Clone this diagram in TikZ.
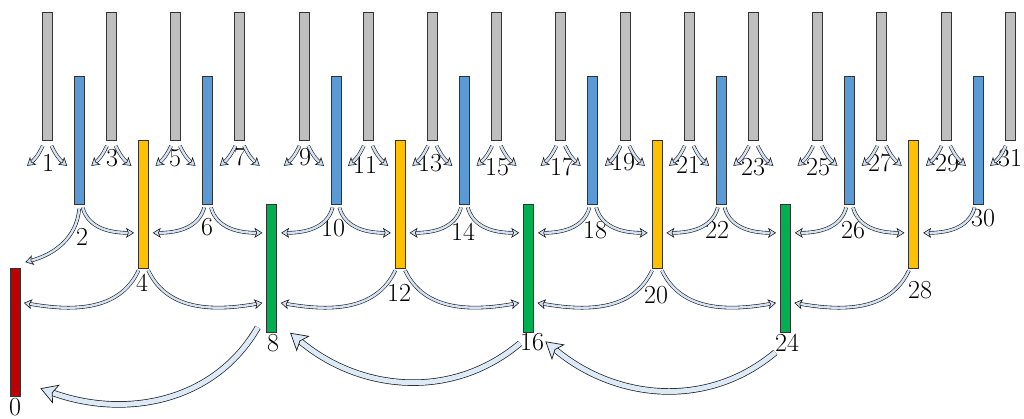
\documentclass[tikz,border=0pt]{standalone}
\usetikzlibrary{arrows.meta,calc}
\definecolor{cgray}{HTML}{BFBFBF}
\definecolor{cblue}{HTML}{5B9BD5}
\definecolor{cyel}{HTML}{FFC000}
\definecolor{cgreen}{HTML}{00B050}
\definecolor{cred}{HTML}{C00000}
\definecolor{afill}{HTML}{D2E3F5}
\definecolor{bfill}{HTML}{DCE9F7}
\begin{document}
\begin{tikzpicture}[x=1pt,y=1pt,
  bar/.style={draw=black!80, line width=0.7pt, minimum width=10pt, minimum height=128pt, inner sep=0pt},
  lab/.style={inner sep=0pt, font=\fontsize{26}{26}\selectfont},
  sarr/.style={draw=black!90, line width=0.6pt, double=afill, double distance=2.4pt,
    -{Stealth[length=8pt,width=10pt,inset=2pt,fill=afill,line width=0.6pt]}},
  barr/.style={draw=black!90, line width=0.7pt, double=bfill, double distance=5pt,
    -{Stealth[length=17pt,width=20pt,inset=4pt,fill=bfill,line width=0.7pt]}}]
\useasboundingbox (0,0) rectangle (1024,-419);
% bars
\foreach \i/\k/\c in {0/4/cred,1/0/cgray,2/1/cblue,3/0/cgray,4/2/cyel,5/0/cgray,6/1/cblue,7/0/cgray,
  8/3/cgreen,9/0/cgray,10/1/cblue,11/0/cgray,12/2/cyel,13/0/cgray,14/1/cblue,15/0/cgray,
  16/3/cgreen,17/0/cgray,18/1/cblue,19/0/cgray,20/2/cyel,21/0/cgray,22/1/cblue,23/0/cgray,
  24/3/cgreen,25/0/cgray,26/1/cblue,27/0/cgray,28/2/cyel,29/0/cgray,30/1/cblue,31/0/cgray}
  \node[bar, fill=\c] (b\i) at ({15+32.1*\i}, {-(76.5+64*\k)}) {};
% labels
\foreach \i/\x/\y in {0/15/407,1/48/163,2/82/237,3/112/158,4/142/283,5/175/158,6/207/227,7/240/157,
  8/273/343,9/305/157,10/333/228,11/365/165,12/399/293,13/430/163,14/463/232,15/497/167,
  16/532/342,17/562/167,18/595/230,19/623/162,20/656/295,21/688/165,22/717/230,23/753/167,
  24/787/343,25/818/167,26/853/230,27/880/163,28/920/290,29/947/163,30/983/218,31/1010/158}
  \node[lab] (t\i) at (\x,-\y) {\i};
% odd bars: short stubs
\foreach \i in {1,3,...,31} {
  \coordinate (ol\i) at ([shift={(-20,-25)}]b\i.south);
  \draw[sarr] ([shift={(1,-5)}]b\i.south west) to[out=-115,in=40] (ol\i);
}
\foreach \i in {1,3,...,29} {
  \coordinate (or\i) at ([shift={(20,-25)}]b\i.south);
  \draw[sarr] ([shift={(-1,-5)}]b\i.south east) to[out=-65,in=140] (or\i);
}
% blue level
\foreach \s/\t in {6/4,10/8,14/12,18/16,22/20,26/24,30/28}
  \draw[sarr] ([shift={(2,-2.5)}]b\s.south west) to[out=-105,in=0] ($(b\s.south -| b\t.east)+(4,-28)$);
\foreach \s/\t in {2/4,6/8,10/12,14/16,18/20,22/24,26/28}
  \draw[sarr] ([shift={(-2,-2.5)}]b\s.south east) to[out=-75,in=180] ($(b\s.south -| b\t.west)+(-4,-28)$);
\draw[sarr] ([shift={(0,-4)}]b2.south) to[out=-95,in=15] ($(b0.north east)+(5,6)$);
% yellow level
\foreach \s/\t in {4/0,12/8,20/16,28/24}
  \draw[sarr] ([shift={(0.5,-1.5)}]b\s.south west) to[out=-115,in=-10] ($(b\s.south -| b\t.east)+(3.5,-34)$);
\foreach \s/\t in {4/8,12/16,20/24}
  \draw[sarr] ([shift={(-0.5,-1.5)}]b\s.south east) to[out=-65,in=190] ($(b\s.south -| b\t.west)+(-4,-34)$);
% green level: big arrows
\coordinate (s8) at ($(b8.south)+(-14,5.5)$);
\coordinate (e0) at ($(b0.south east)+(20,8.5)$);
\coordinate (s16) at ($(b16.south)+(-8.6,-10.5)$);
\coordinate (e8) at ($(b8.south east)+(13,0)$);
\coordinate (s24) at ($(b24.south)+(-10,-19.5)$);
\coordinate (e16) at ($(b16.south east)+(11.4,-8.5)$);
\draw[barr] (s8) to[out=-120,in=-20] (e0);
\draw[barr] (s16) to[out=-140,in=-40] (e8);
\draw[barr] (s24) to[out=-140,in=-40] (e16);
\end{tikzpicture}
\end{document}
